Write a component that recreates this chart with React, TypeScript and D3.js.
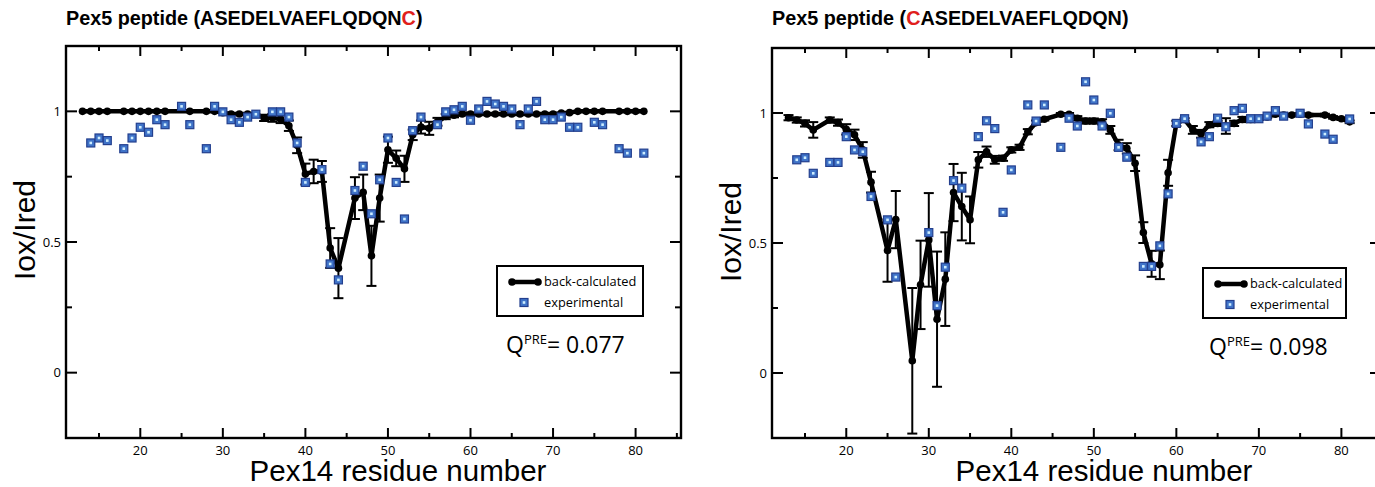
import React from 'react';
import * as d3 from 'd3';

// back-calculated PRE ratios, left panel (C-terminal spin label)
const leftCalcResidues = [13, 14, 15, 16, 18, 19, 20, 21, 22, 23, 26, 28, 29, 30, 31, 32, 33, 34, 35, 36, 37, 38, 39, 40, 41, 42, 43, 44, 46, 47, 48, 49, 50, 51, 52, 53, 54, 55, 56, 57, 58, 59, 60, 61, 62, 63, 64, 65, 66, 67, 68, 69, 70, 71, 72, 73, 74, 75, 76, 78, 79, 80, 81];
const leftCalcValues = [1.0, 1.0, 1.0, 1.0, 1.0, 1.0, 1.0, 1.0, 1.0, 1.0, 1.0, 1.0, 1.0, 0.995, 0.99, 0.99, 0.99, 0.99, 0.975, 0.975, 0.97, 0.945, 0.87, 0.76, 0.77, 0.77, 0.477, 0.4, 0.668, 0.69, 0.447, 0.668, 0.853, 0.82, 0.78, 0.91, 0.94, 0.935, 0.96, 0.98, 0.985, 0.99, 0.99, 0.99, 0.99, 0.99, 0.99, 0.99, 0.99, 0.99, 0.99, 0.99, 0.99, 0.993, 0.995, 1.0, 1.0, 1.0, 1.0, 1.0, 1.0, 1.0, 1.0];
const leftCalcErrors = [0, 0, 0, 0, 0, 0, 0, 0, 0, 0, 0, 0, 0, 0, 0, 0, 0, 0, 0.012, 0.015, 0.015, 0.02, 0.03, 0.04, 0.045, 0.04, 0.076, 0.115, 0.08, 0.068, 0.115, 0.09, 0.05, 0.03, 0.05, 0.02, 0.025, 0.025, 0.015, 0.01, 0.008, 0.005, 0.005, 0, 0, 0, 0, 0, 0, 0, 0, 0, 0, 0, 0, 0, 0, 0, 0, 0, 0, 0, 0];
const leftExpResidues = [14, 15, 16, 18, 19, 20, 21, 22, 23, 25, 26, 28, 29, 30, 31, 32, 33, 34, 36, 37, 38, 39, 40, 42, 43, 44, 46, 47, 48, 49, 50, 51, 52, 53, 54, 56, 57, 58, 59, 60, 61, 62, 63, 64, 65, 66, 67, 68, 69, 70, 71, 72, 73, 75, 76, 78, 79, 81];
const leftExpValues = [0.879, 0.898, 0.888, 0.857, 0.898, 0.939, 0.92, 0.968, 0.949, 1.019, 0.949, 0.857, 1.019, 0.998, 0.968, 0.958, 0.978, 0.989, 0.998, 0.998, 0.978, 0.879, 0.728, 0.777, 0.416, 0.355, 0.697, 0.79, 0.608, 0.738, 0.898, 0.728, 0.588, 0.926, 0.978, 0.949, 0.998, 1.006, 1.019, 0.966, 1.009, 1.038, 1.028, 1.019, 1.009, 0.949, 1.009, 1.038, 0.968, 0.968, 0.978, 0.939, 0.939, 0.958, 0.949, 0.857, 0.84, 0.84];

// right panel (N-terminal spin label)
const rightCalcResidues = [13, 14, 15, 16, 18, 19, 20, 21, 22, 23, 25, 26, 28, 29, 30, 31, 32, 33, 34, 35, 36, 37, 38, 39, 40, 41, 42, 43, 44, 46, 47, 48, 49, 50, 51, 52, 53, 54, 55, 56, 57, 58, 59, 60, 61, 62, 63, 64, 65, 66, 67, 68, 69, 70, 71, 72, 73, 74, 75, 76, 78, 79, 80, 81];
const rightCalcValues = [0.982, 0.973, 0.96, 0.935, 0.973, 0.963, 0.937, 0.916, 0.858, 0.734, 0.471, 0.59, 0.047, 0.339, 0.512, 0.207, 0.361, 0.694, 0.64, 0.589, 0.82, 0.851, 0.82, 0.826, 0.858, 0.868, 0.928, 0.963, 0.976, 0.995, 0.995, 0.98, 0.969, 0.969, 0.966, 0.935, 0.877, 0.864, 0.807, 0.54, 0.42, 0.416, 0.77, 0.96, 0.975, 0.935, 0.92, 0.955, 0.96, 0.95, 0.96, 0.975, 0.975, 0.978, 0.985, 0.995, 0.992, 0.992, 0.995, 0.992, 0.992, 0.983, 0.978, 0.966];
const rightCalcErrors = [0.01, 0.01, 0.012, 0.03, 0.01, 0.012, 0.02, 0.02, 0.03, 0.04, 0.12, 0.11, 0.28, 0.17, 0.18, 0.26, 0.18, 0.11, 0.13, 0.09, 0.03, 0.02, 0.015, 0.01, 0.01, 0.01, 0.01, 0.008, 0.005, 0.005, 0.005, 0.008, 0.01, 0.01, 0.01, 0.015, 0.02, 0.02, 0.03, 0.04, 0.05, 0.055, 0.05, 0.01, 0.005, 0.015, 0.015, 0.01, 0.01, 0.03, 0.01, 0.01, 0.01, 0.005, 0.005, 0.005, 0.005, 0.005, 0.005, 0.005, 0.005, 0.005, 0.005, 0.005];
const rightExpResidues = [14, 15, 16, 18, 19, 20, 21, 22, 23, 25, 26, 30, 31, 32, 33, 34, 36, 37, 38, 39, 40, 42, 43, 44, 46, 47, 48, 49, 50, 51, 52, 53, 54, 56, 57, 58, 59, 60, 61, 63, 64, 65, 66, 67, 68, 69, 70, 71, 72, 73, 75, 76, 78, 79, 81];
const rightExpValues = [0.82, 0.828, 0.768, 0.81, 0.81, 0.909, 0.858, 0.851, 0.679, 0.589, 0.369, 0.54, 0.259, 0.407, 0.74, 0.711, 0.909, 0.97, 0.94, 0.618, 0.781, 1.031, 0.969, 1.031, 0.868, 0.98, 0.95, 1.12, 1.05, 0.95, 0.999, 0.868, 0.83, 0.41, 0.41, 0.489, 0.689, 0.96, 0.978, 0.889, 0.909, 0.98, 0.947, 1.009, 1.018, 0.978, 0.978, 0.988, 1.009, 0.988, 0.999, 0.958, 0.919, 0.899, 0.977];

const xMajorTicks = [20, 30, 40, 50, 60, 70, 80];
const xMinorTicks = [15, 25, 35, 45, 55, 65, 75, 85];
const yMajorTicks = [0, 0.5, 1];
const yMajorLabels = ['0', '0.5', '1'];
const yMinorTicks = [0.25, 0.75];

const leftTitle = ['Pex5 peptide (ASEDELVAEFLQDQN', 'C', ')'];
const rightTitle = ['Pex5 peptide (', 'C', 'ASEDELVAEFLQDQN)'];

const SANS = 'Liberation Sans, Arial, sans-serif';
const HUMAN = 'Open Sans, Noto Sans, sans-serif';

function Marker({ cx, cy }: { cx: number; cy: number }) {
  return (
    <g>
      <rect x={cx - 4} y={cy - 4} width={8} height={8} fill="#3f73c8" stroke="#233f8e" strokeWidth={1.2} />
      <rect x={cx - 1.3} y={cy - 1.3} width={2.6} height={2.6} fill="#cdeeff" />
    </g>
  );
}

function Panel(p: any) {
  const x = d3.scaleLinear().domain(p.xDomain).range(p.xRange);
  const y = d3.scaleLinear().domain([-0.25, 1.25]).range(p.yRange);
  const [x0, x1] = p.xRange;
  const [yb, yt] = p.yRange;

  const calc = p.calcResidues.map((r: number, i: number) => ({ r, v: p.calcValues[i], e: p.calcErrors[i] }));
  const exp = p.expResidues.map((r: number, i: number) => ({ r, v: p.expValues[i] }));
  const line = d3.line<any>().x(d => x(d.r)).y(d => y(d.v));

  const lx = p.legendX, ly = p.legendY;

  return (
    <g>
      <text x={x0} y={25} fontFamily={SANS} fontWeight="bold" fontSize={19.8}>
        <tspan>{p.title[0]}</tspan>
        <tspan fill="#e0201b">{p.title[1]}</tspan>
        <tspan>{p.title[2]}</tspan>
      </text>

      {/* ticks */}
      {xMajorTicks.map(t => (
        <g key={'xM' + t}>
          <line x1={x(t)} x2={x(t)} y1={yb} y2={yb - 10} stroke="#000" strokeWidth={2} />
          <line x1={x(t)} x2={x(t)} y1={yt} y2={yt + 10} stroke="#000" strokeWidth={2} />
          <text x={x(t)} y={yb + 17} textAnchor="middle" fontFamily={HUMAN} fontSize={13}>{t}</text>
        </g>
      ))}
      {xMinorTicks.map(t => (
        <g key={'xm' + t}>
          <line x1={x(t)} x2={x(t)} y1={yb} y2={yb - 5} stroke="#000" strokeWidth={2} />
          <line x1={x(t)} x2={x(t)} y1={yt} y2={yt + 5} stroke="#000" strokeWidth={2} />
        </g>
      ))}
      {yMajorTicks.map((t, i) => (
        <g key={'yM' + t}>
          <line x1={x0} x2={x0 + 11} y1={y(t)} y2={y(t)} stroke="#000" strokeWidth={2} />
          <line x1={x1} x2={x1 - 11} y1={y(t)} y2={y(t)} stroke="#000" strokeWidth={2} />
          <text x={x0 - 5} y={y(t)} dy="0.35em" textAnchor="end" fontFamily={HUMAN} fontSize={13}>{yMajorLabels[i]}</text>
        </g>
      ))}
      {yMinorTicks.map(t => (
        <g key={'ym' + t}>
          <line x1={x0} x2={x0 + 6} y1={y(t)} y2={y(t)} stroke="#000" strokeWidth={2} />
          <line x1={x1} x2={x1 - 6} y1={y(t)} y2={y(t)} stroke="#000" strokeWidth={2} />
        </g>
      ))}

      {/* error bars */}
      {calc.filter((d: any) => d.e > 0).map((d: any) => (
        <g key={'e' + d.r} stroke="#000" strokeWidth={2}>
          <line x1={x(d.r)} x2={x(d.r)} y1={y(d.v - d.e)} y2={y(d.v + d.e)} />
          <line x1={x(d.r) - 5} x2={x(d.r) + 5} y1={y(d.v - d.e)} y2={y(d.v - d.e)} />
          <line x1={x(d.r) - 5} x2={x(d.r) + 5} y1={y(d.v + d.e)} y2={y(d.v + d.e)} />
        </g>
      ))}
      <path d={line(calc) || ''} fill="none" stroke="#000" strokeWidth={4.5} strokeLinejoin="round" />
      {calc.map((d: any) => (
        <circle key={'c' + d.r} cx={x(d.r)} cy={y(d.v)} r={3.8} fill="#000" />
      ))}
      {exp.map((d: any) => (
        <Marker key={'x' + d.r} cx={x(d.r)} cy={y(d.v)} />
      ))}

      <rect x={x0} y={yt} width={x1 - x0} height={yb - yt} fill="none" stroke="#000" strokeWidth={2.4} />

      {/* legend */}
      <rect x={lx} y={ly} width={p.legendW} height={50} fill="#fff" stroke="#000" strokeWidth={2} />
      <line x1={lx + 15} x2={lx + 41} y1={ly + 16} y2={ly + 16} stroke="#000" strokeWidth={4.5} />
      <circle cx={lx + 15} cy={ly + 16} r={3.8} fill="#000" />
      <circle cx={lx + 41} cy={ly + 16} r={3.8} fill="#000" />
      <text x={lx + 47} y={ly + 16} dy="0.35em" fontFamily={HUMAN} fontSize={12.8}>back-calculated</text>
      <Marker cx={lx + 27} cy={ly + 36.5} />
      <text x={lx + 47} y={ly + 36.5} dy="0.35em" fontFamily={HUMAN} fontSize={12.8}>experimental</text>

      <text x={p.qX} y={p.qY} fontFamily={HUMAN} fontSize={23}>
        Q<tspan fontSize={13} dy={-9}>PRE</tspan><tspan fontSize={23} dy={9}>= {p.qValue}</tspan>
      </text>

      {/* axis titles */}
      <text transform={`translate(${p.yLabelX},${p.yLabelY}) rotate(-90)`} textAnchor="middle" fontFamily={SANS} fontSize={30}>Iox/Ired</text>
      <text x={p.xLabelX} y={481} textAnchor="middle" fontFamily={SANS} fontSize={29.5}>Pex14 residue number</text>
    </g>
  );
}

export default function App() {
  return (
    <svg width={1375} height={487} style={{ position: 'absolute', left: 0, top: 0, background: '#fff' }}>
      <Panel
        xDomain={[11, 85.5]} xRange={[66, 681]} yRange={[438, 46]}
        calcResidues={leftCalcResidues} calcValues={leftCalcValues} calcErrors={leftCalcErrors}
        expResidues={leftExpResidues} expValues={leftExpValues}
        title={leftTitle}
        legendX={497} legendY={266} legendW={146}
        qValue="0.077" qX={506} qY={353}
        yLabelX={35} yLabelY={230} xLabelX={398}
      />
      <Panel
        xDomain={[11, 84.8]} xRange={[772, 1381]} yRange={[438, 48]}
        calcResidues={rightCalcResidues} calcValues={rightCalcValues} calcErrors={rightCalcErrors}
        expResidues={rightExpResidues} expValues={rightExpValues}
        title={rightTitle}
        legendX={1203} legendY={268} legendW={143}
        qValue="0.098" qX={1209} qY={355}
        yLabelX={741} yLabelY={232} xLabelX={1104}
      />
    </svg>
  );
}
